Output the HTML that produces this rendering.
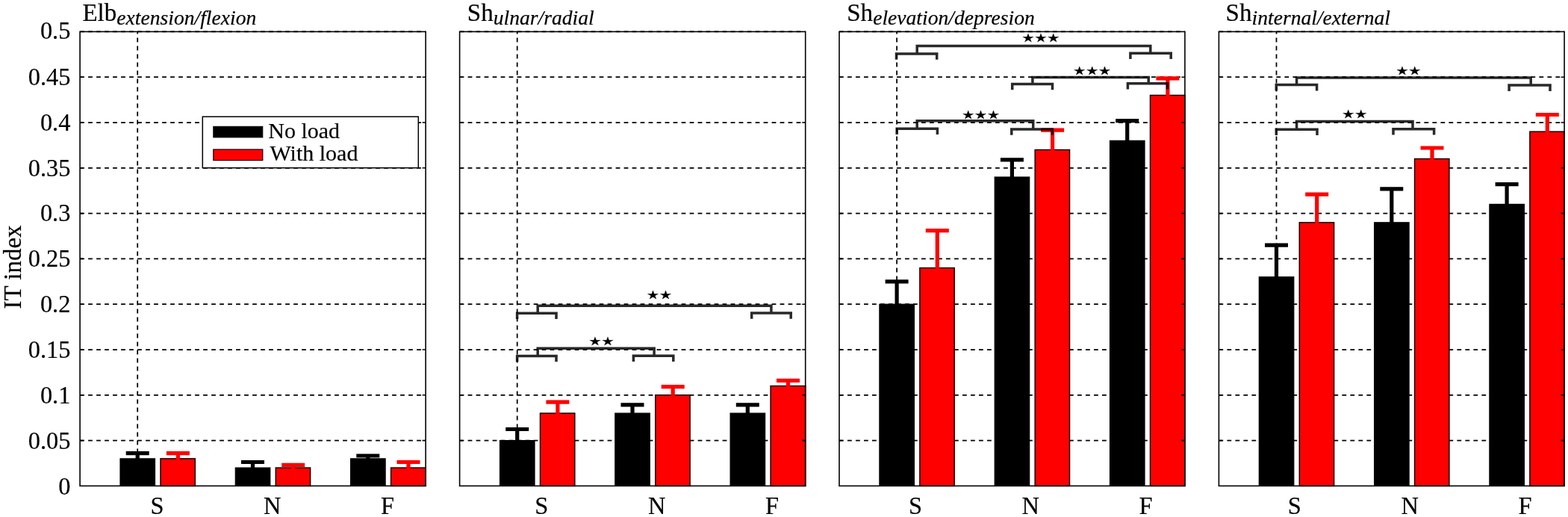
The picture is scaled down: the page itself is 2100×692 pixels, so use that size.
<!DOCTYPE html>
<html lang="en"><head><meta charset="utf-8"><title>IT index</title>
<style>
html,body{margin:0;padding:0;background:#fff;}
body{width:2100px;height:692px;overflow:hidden;}
svg{display:block;}
text{font-family:"Liberation Serif","DejaVu Serif",serif;fill:#000;stroke:#000;stroke-width:0.2px;}
.t{font-size:33px;}
.yt{font-size:34.3px;}
.sub{font-size:27.6px;font-style:italic;}
.lg{font-size:30px;}
.st{font-family:"DejaVu Sans","Liberation Sans",sans-serif;font-size:18px;stroke:#000;stroke-width:0.35;}
.grid{stroke:#000;stroke-width:1.75;stroke-dasharray:5.8 5.2;fill:none;}
.ax{stroke:#000;stroke-width:1.6;fill:none;}
.br{stroke:#000;stroke-opacity:0.84;stroke-width:3.5;fill:none;stroke-linecap:butt;}
.bk{fill:#000;stroke:#000;stroke-width:1.2;}
.rd{fill:#fe0000;stroke:#140000;stroke-width:1.5;}
.ek{stroke:#000;stroke-width:5.2;fill:none;}
.er{stroke:#fe0000;stroke-width:5.2;fill:none;}
</style></head><body>
<svg width="2100" height="692" viewBox="0 0 2100 692">
<rect x="0" y="0" width="2100" height="692" fill="#fff"/>
<text class="yt" transform="translate(94.4,662.2) scale(0.945,1)" text-anchor="end">0</text>
<text class="yt" transform="translate(94.4,600.8) scale(0.945,1)" text-anchor="end">0.05</text>
<text class="yt" transform="translate(94.4,539.5) scale(0.945,1)" text-anchor="end">0.1</text>
<text class="yt" transform="translate(94.4,478.7) scale(0.945,1)" text-anchor="end">0.15</text>
<text class="yt" transform="translate(94.4,417.9) scale(0.945,1)" text-anchor="end">0.2</text>
<text class="yt" transform="translate(94.4,357.1) scale(0.945,1)" text-anchor="end">0.25</text>
<text class="yt" transform="translate(94.4,296.3) scale(0.945,1)" text-anchor="end">0.3</text>
<text class="yt" transform="translate(94.4,235.5) scale(0.945,1)" text-anchor="end">0.35</text>
<text class="yt" transform="translate(94.4,174.7) scale(0.945,1)" text-anchor="end">0.4</text>
<text class="yt" transform="translate(94.4,113.9) scale(0.945,1)" text-anchor="end">0.45</text>
<text class="yt" transform="translate(94.4,52.3) scale(0.945,1)" text-anchor="end">0.5</text>
<text class="t" transform="translate(28,357.5) rotate(-90)" text-anchor="middle">IT index</text>
<g>
<text class="t" x="110.4" y="28.0">Elb<tspan class="sub" dx="0.1" dy="5.0">extension/flexion</tspan></text>
<line class="grid" x1="107.1" y1="589.6" x2="570.1" y2="589.6"/>
<line class="grid" x1="107.1" y1="528.8" x2="570.1" y2="528.8"/>
<line class="grid" x1="107.1" y1="468.0" x2="570.1" y2="468.0"/>
<line class="grid" x1="107.1" y1="407.2" x2="570.1" y2="407.2"/>
<line class="grid" x1="107.1" y1="346.4" x2="570.1" y2="346.4"/>
<line class="grid" x1="107.1" y1="285.6" x2="570.1" y2="285.6"/>
<line class="grid" x1="107.1" y1="224.8" x2="570.1" y2="224.8"/>
<line class="grid" x1="107.1" y1="164.0" x2="570.1" y2="164.0"/>
<line class="grid" x1="107.1" y1="103.2" x2="570.1" y2="103.2"/>
<line class="grid" x1="107.1" y1="42.4" x2="570.1" y2="42.4"/>
<line class="grid" x1="184.2" y1="650.4" x2="184.2" y2="42.4"/>
<rect class="bk" x="161.0" y="613.9" width="46.5" height="36.5"/>
<rect class="rd" x="215.0" y="613.9" width="46.3" height="36.5"/>
<path class="ek" d="M184.2 621.2 V606.6 M168.7 606.6 H199.7"/>
<path class="er" d="M238.4 621.2 V606.6 M222.9 606.6 H253.9"/>
<rect class="bk" x="315.3" y="626.1" width="46.5" height="24.3"/>
<rect class="rd" x="369.3" y="626.1" width="46.3" height="24.3"/>
<path class="ek" d="M338.5 633.6 V618.5 M323.0 618.5 H354.0"/>
<path class="er" d="M392.7 629.7 V622.4 M377.2 622.4 H408.2"/>
<rect class="bk" x="469.6" y="613.9" width="46.5" height="36.5"/>
<rect class="rd" x="523.6" y="626.1" width="46.5" height="24.3"/>
<path class="ek" d="M492.8 617.8 V610.0 M477.3 610.0 H508.3"/>
<path class="er" d="M547.0 633.6 V618.5 M531.5 618.5 H562.5"/>
<rect class="ax" x="107.1" y="42.4" width="463.0" height="608.0"/>
<path class="ax" d="M107.1 589.6 h4.5 M570.1 589.6 h-4.5"/>
<path class="ax" d="M107.1 528.8 h4.5 M570.1 528.8 h-4.5"/>
<path class="ax" d="M107.1 468.0 h4.5 M570.1 468.0 h-4.5"/>
<path class="ax" d="M107.1 407.2 h4.5 M570.1 407.2 h-4.5"/>
<path class="ax" d="M107.1 346.4 h4.5 M570.1 346.4 h-4.5"/>
<path class="ax" d="M107.1 285.6 h4.5 M570.1 285.6 h-4.5"/>
<path class="ax" d="M107.1 224.8 h4.5 M570.1 224.8 h-4.5"/>
<path class="ax" d="M107.1 164.0 h4.5 M570.1 164.0 h-4.5"/>
<path class="ax" d="M107.1 103.2 h4.5 M570.1 103.2 h-4.5"/>
<text class="yt" transform="translate(210.4,688) scale(0.945,1)" text-anchor="middle">S</text>
<text class="yt" transform="translate(364.7,688) scale(0.945,1)" text-anchor="middle">N</text>
<text class="yt" transform="translate(519.0,688) scale(0.945,1)" text-anchor="middle">F</text>
</g>
<g>
<text class="t" x="625.8" y="28.0">Sh<tspan class="sub" dx="0.1" dy="5.0">ulnar/radial</tspan></text>
<line class="grid" x1="615.6" y1="589.6" x2="1078.7" y2="589.6"/>
<line class="grid" x1="615.6" y1="528.8" x2="1078.7" y2="528.8"/>
<line class="grid" x1="615.6" y1="468.0" x2="1078.7" y2="468.0"/>
<line class="grid" x1="615.6" y1="407.2" x2="1078.7" y2="407.2"/>
<line class="grid" x1="615.6" y1="346.4" x2="1078.7" y2="346.4"/>
<line class="grid" x1="615.6" y1="285.6" x2="1078.7" y2="285.6"/>
<line class="grid" x1="615.6" y1="224.8" x2="1078.7" y2="224.8"/>
<line class="grid" x1="615.6" y1="164.0" x2="1078.7" y2="164.0"/>
<line class="grid" x1="615.6" y1="103.2" x2="1078.7" y2="103.2"/>
<line class="grid" x1="615.6" y1="42.4" x2="1078.7" y2="42.4"/>
<line class="grid" x1="692.7" y1="650.4" x2="692.7" y2="42.4"/>
<rect class="bk" x="669.5" y="589.6" width="46.5" height="60.8"/>
<rect class="rd" x="723.5" y="553.1" width="46.3" height="97.3"/>
<path class="ek" d="M692.7 604.7 V574.5 M677.2 574.5 H708.2"/>
<path class="er" d="M746.9 568.1 V538.2 M731.4 538.2 H762.4"/>
<rect class="bk" x="823.8" y="553.1" width="46.5" height="97.3"/>
<rect class="rd" x="877.8" y="528.8" width="46.3" height="121.6"/>
<path class="ek" d="M847.0 564.4 V541.8 M831.5 541.8 H862.5"/>
<path class="er" d="M901.2 540.0 V517.6 M885.7 517.6 H916.7"/>
<rect class="bk" x="978.1" y="553.1" width="46.5" height="97.3"/>
<rect class="rd" x="1032.1" y="516.6" width="46.6" height="133.8"/>
<path class="ek" d="M1001.3 564.4 V541.8 M985.8 541.8 H1016.8"/>
<path class="er" d="M1055.5 523.9 V509.3 M1040.0 509.3 H1071.0"/>
<rect class="ax" x="615.6" y="42.4" width="463.1" height="608.0"/>
<path class="ax" d="M615.6 589.6 h4.5 M1078.7 589.6 h-4.5"/>
<path class="ax" d="M615.6 528.8 h4.5 M1078.7 528.8 h-4.5"/>
<path class="ax" d="M615.6 468.0 h4.5 M1078.7 468.0 h-4.5"/>
<path class="ax" d="M615.6 407.2 h4.5 M1078.7 407.2 h-4.5"/>
<path class="ax" d="M615.6 346.4 h4.5 M1078.7 346.4 h-4.5"/>
<path class="ax" d="M615.6 285.6 h4.5 M1078.7 285.6 h-4.5"/>
<path class="ax" d="M615.6 224.8 h4.5 M1078.7 224.8 h-4.5"/>
<path class="ax" d="M615.6 164.0 h4.5 M1078.7 164.0 h-4.5"/>
<path class="ax" d="M615.6 103.2 h4.5 M1078.7 103.2 h-4.5"/>
<text class="yt" transform="translate(725.3,688) scale(0.945,1)" text-anchor="middle">S</text>
<text class="yt" transform="translate(879.6,688) scale(0.945,1)" text-anchor="middle">N</text>
<text class="yt" transform="translate(1033.9,688) scale(0.945,1)" text-anchor="middle">F</text>
</g>
<g>
<text class="t" x="1134.2" y="28.0">Sh<tspan class="sub" dx="0.1" dy="5.0">elevation/depresion</tspan></text>
<line class="grid" x1="1124.0" y1="589.6" x2="1586.9" y2="589.6"/>
<line class="grid" x1="1124.0" y1="528.8" x2="1586.9" y2="528.8"/>
<line class="grid" x1="1124.0" y1="468.0" x2="1586.9" y2="468.0"/>
<line class="grid" x1="1124.0" y1="407.2" x2="1586.9" y2="407.2"/>
<line class="grid" x1="1124.0" y1="346.4" x2="1586.9" y2="346.4"/>
<line class="grid" x1="1124.0" y1="285.6" x2="1586.9" y2="285.6"/>
<line class="grid" x1="1124.0" y1="224.8" x2="1586.9" y2="224.8"/>
<line class="grid" x1="1124.0" y1="164.0" x2="1586.9" y2="164.0"/>
<line class="grid" x1="1124.0" y1="103.2" x2="1586.9" y2="103.2"/>
<line class="grid" x1="1124.0" y1="42.4" x2="1586.9" y2="42.4"/>
<line class="grid" x1="1201.1" y1="650.4" x2="1201.1" y2="42.4"/>
<rect class="bk" x="1177.9" y="407.2" width="46.5" height="243.2"/>
<rect class="rd" x="1231.9" y="358.6" width="46.3" height="291.8"/>
<path class="ek" d="M1201.1 437.6 V376.8 M1185.6 376.8 H1216.6"/>
<path class="er" d="M1255.3 408.4 V308.7 M1239.8 308.7 H1270.8"/>
<rect class="bk" x="1332.2" y="237.0" width="46.5" height="413.4"/>
<rect class="rd" x="1386.2" y="200.5" width="46.3" height="449.9"/>
<path class="ek" d="M1355.4 260.1 V213.9 M1339.9 213.9 H1370.9"/>
<path class="er" d="M1409.6 226.9 V174.1 M1394.1 174.1 H1425.1"/>
<rect class="bk" x="1486.5" y="188.3" width="46.5" height="462.1"/>
<rect class="rd" x="1540.5" y="127.5" width="46.4" height="522.9"/>
<path class="ek" d="M1509.7 215.1 V161.6 M1494.2 161.6 H1525.2"/>
<path class="er" d="M1563.9 150.1 V104.9 M1548.4 104.9 H1579.4"/>
<rect class="ax" x="1124.0" y="42.4" width="462.9" height="608.0"/>
<path class="ax" d="M1124.0 589.6 h4.5 M1586.9 589.6 h-4.5"/>
<path class="ax" d="M1124.0 528.8 h4.5 M1586.9 528.8 h-4.5"/>
<path class="ax" d="M1124.0 468.0 h4.5 M1586.9 468.0 h-4.5"/>
<path class="ax" d="M1124.0 407.2 h4.5 M1586.9 407.2 h-4.5"/>
<path class="ax" d="M1124.0 346.4 h4.5 M1586.9 346.4 h-4.5"/>
<path class="ax" d="M1124.0 285.6 h4.5 M1586.9 285.6 h-4.5"/>
<path class="ax" d="M1124.0 224.8 h4.5 M1586.9 224.8 h-4.5"/>
<path class="ax" d="M1124.0 164.0 h4.5 M1586.9 164.0 h-4.5"/>
<path class="ax" d="M1124.0 103.2 h4.5 M1586.9 103.2 h-4.5"/>
<text class="yt" transform="translate(1226.0,688) scale(0.945,1)" text-anchor="middle">S</text>
<text class="yt" transform="translate(1380.3,688) scale(0.945,1)" text-anchor="middle">N</text>
<text class="yt" transform="translate(1534.6,688) scale(0.945,1)" text-anchor="middle">F</text>
</g>
<g>
<text class="t" x="1641.6" y="28.0">Sh<tspan class="sub" dx="0.1" dy="5.0">internal/external</tspan></text>
<line class="grid" x1="1632.4" y1="589.6" x2="2095.1" y2="589.6"/>
<line class="grid" x1="1632.4" y1="528.8" x2="2095.1" y2="528.8"/>
<line class="grid" x1="1632.4" y1="468.0" x2="2095.1" y2="468.0"/>
<line class="grid" x1="1632.4" y1="407.2" x2="2095.1" y2="407.2"/>
<line class="grid" x1="1632.4" y1="346.4" x2="2095.1" y2="346.4"/>
<line class="grid" x1="1632.4" y1="285.6" x2="2095.1" y2="285.6"/>
<line class="grid" x1="1632.4" y1="224.8" x2="2095.1" y2="224.8"/>
<line class="grid" x1="1632.4" y1="164.0" x2="2095.1" y2="164.0"/>
<line class="grid" x1="1632.4" y1="103.2" x2="2095.1" y2="103.2"/>
<line class="grid" x1="1632.4" y1="42.4" x2="2095.1" y2="42.4"/>
<line class="grid" x1="1709.5" y1="650.4" x2="1709.5" y2="42.4"/>
<rect class="bk" x="1686.3" y="370.7" width="46.5" height="279.7"/>
<rect class="rd" x="1740.3" y="297.8" width="46.3" height="352.6"/>
<path class="ek" d="M1709.5 413.3 V328.2 M1694.0 328.2 H1725.0"/>
<path class="er" d="M1763.7 335.5 V260.1 M1748.2 260.1 H1779.2"/>
<rect class="bk" x="1840.6" y="297.8" width="46.5" height="352.6"/>
<rect class="rd" x="1894.6" y="212.6" width="46.3" height="437.8"/>
<path class="ek" d="M1863.8 342.8 V252.8 M1848.3 252.8 H1879.3"/>
<path class="er" d="M1918.0 227.2 V198.0 M1902.5 198.0 H1933.5"/>
<rect class="bk" x="1994.9" y="273.4" width="46.5" height="377.0"/>
<rect class="rd" x="2048.9" y="176.2" width="46.2" height="474.2"/>
<path class="ek" d="M2018.1 300.2 V246.7 M2002.6 246.7 H2033.6"/>
<path class="er" d="M2072.3 198.8 V153.5 M2056.8 153.5 H2087.8"/>
<rect class="ax" x="1632.4" y="42.4" width="462.7" height="608.0"/>
<path class="ax" d="M1632.4 589.6 h4.5 M2095.1 589.6 h-4.5"/>
<path class="ax" d="M1632.4 528.8 h4.5 M2095.1 528.8 h-4.5"/>
<path class="ax" d="M1632.4 468.0 h4.5 M2095.1 468.0 h-4.5"/>
<path class="ax" d="M1632.4 407.2 h4.5 M2095.1 407.2 h-4.5"/>
<path class="ax" d="M1632.4 346.4 h4.5 M2095.1 346.4 h-4.5"/>
<path class="ax" d="M1632.4 285.6 h4.5 M2095.1 285.6 h-4.5"/>
<path class="ax" d="M1632.4 224.8 h4.5 M2095.1 224.8 h-4.5"/>
<path class="ax" d="M1632.4 164.0 h4.5 M2095.1 164.0 h-4.5"/>
<path class="ax" d="M1632.4 103.2 h4.5 M2095.1 103.2 h-4.5"/>
<text class="yt" transform="translate(1733.8,688) scale(0.945,1)" text-anchor="middle">S</text>
<text class="yt" transform="translate(1888.1,688) scale(0.945,1)" text-anchor="middle">N</text>
<text class="yt" transform="translate(2042.4,688) scale(0.945,1)" text-anchor="middle">F</text>
</g>
<path class="br" d="M692.6 427.1 V417.6 M745.0 427.1 V417.6 M690.9 419.3 H746.8 M1006.7 426.8 V417.2 M1059.2 426.8 V417.2 M1005.0 419.0 H1061.0 M720.2 417.6 V407.6 M1032.9 417.2 V407.6 M718.5 409.3 H1034.7"/>
<text class="st" transform="translate(883.0,394.7) scale(1.02,0.85)" x="-16.36 0.21" y="6.47">★★</text>
<path class="br" d="M692.6 484.3 V474.8 M745.0 484.3 V474.8 M690.9 476.5 H746.8 M848.4 484.0 V474.4 M901.8 484.0 V474.4 M846.6 476.2 H903.5 M720.2 474.8 V464.6 M876.1 474.4 V464.6 M718.5 466.3 H877.9"/>
<text class="st" transform="translate(805.5,456.0) scale(1.02,0.85)" x="-16.36 0.21" y="6.47">★★</text>
<path class="br" d="M1200.5 79.8 V70.2 M1254.7 79.8 V70.2 M1198.8 72.0 H1256.5 M1513.9 79.0 V69.5 M1568.2 79.0 V69.5 M1512.2 71.2 H1570.0 M1228.2 70.2 V59.9 M1540.8 69.5 V59.9 M1226.5 61.6 H1542.5"/>
<text class="st" transform="translate(1393.9,50.2) scale(1.02,0.85)" x="-24.64 -8.07 8.50" y="6.47">★★★</text>
<path class="br" d="M1355.7 120.3 V110.8 M1409.5 120.3 V110.8 M1354.0 112.5 H1411.2 M1510.4 119.5 V110.0 M1563.6 119.5 V110.0 M1508.7 111.7 H1565.3 M1382.9 110.8 V101.7 M1538.2 110.0 V101.7 M1381.2 103.4 H1540.0"/>
<text class="st" transform="translate(1462.7,94.3) scale(1.02,0.85)" x="-24.64 -8.07 8.50" y="6.47">★★★</text>
<path class="br" d="M1201.2 180.1 V170.6 M1255.4 180.1 V170.6 M1199.5 172.3 H1257.2 M1354.8 180.7 V171.2 M1409.2 180.7 V171.2 M1353.0 172.9 H1411.0 M1228.2 170.6 V160.1 M1383.7 171.2 V160.1 M1226.5 161.8 H1385.5"/>
<text class="st" transform="translate(1313.5,153.2) scale(1.02,0.85)" x="-24.64 -8.07 8.50" y="6.47">★★★</text>
<path class="br" d="M1709.3 121.4 V111.8 M1763.6 121.4 V111.8 M1707.5 113.6 H1765.3 M2021.1 121.9 V112.3 M2076.0 121.9 V112.3 M2019.3 114.1 H2077.8 M1736.6 111.8 V102.2 M2050.2 112.3 V102.2 M1734.8 104.0 H2051.9"/>
<text class="st" transform="translate(1886.4,94.9) scale(1.02,0.85)" x="-16.36 0.21" y="6.47">★★</text>
<path class="br" d="M1709.3 181.1 V171.6 M1764.0 181.1 V171.6 M1707.5 173.3 H1765.8 M1866.0 180.5 V170.9 M1920.6 180.5 V170.9 M1864.2 172.7 H1922.3 M1736.6 171.6 V160.8 M1892.0 170.9 V160.8 M1734.8 162.6 H1893.8"/>
<text class="st" transform="translate(1814.2,152.9) scale(1.02,0.85)" x="-16.36 0.21" y="6.47">★★</text>
<rect x="271.3" y="156.2" width="289" height="68.5" fill="#fff" stroke="#000" stroke-width="1.5"/>
<rect x="285.8" y="169.3" width="66" height="14.6" fill="#000" stroke="#000" stroke-width="1"/>
<rect x="285.8" y="200.0" width="66" height="14.6" fill="#fe0000" stroke="#1a0000" stroke-width="1.2"/>
<text class="lg" x="359.3" y="185.2">No load</text>
<text class="lg" x="361.5" y="215.2">With load</text>
</svg></body></html>
